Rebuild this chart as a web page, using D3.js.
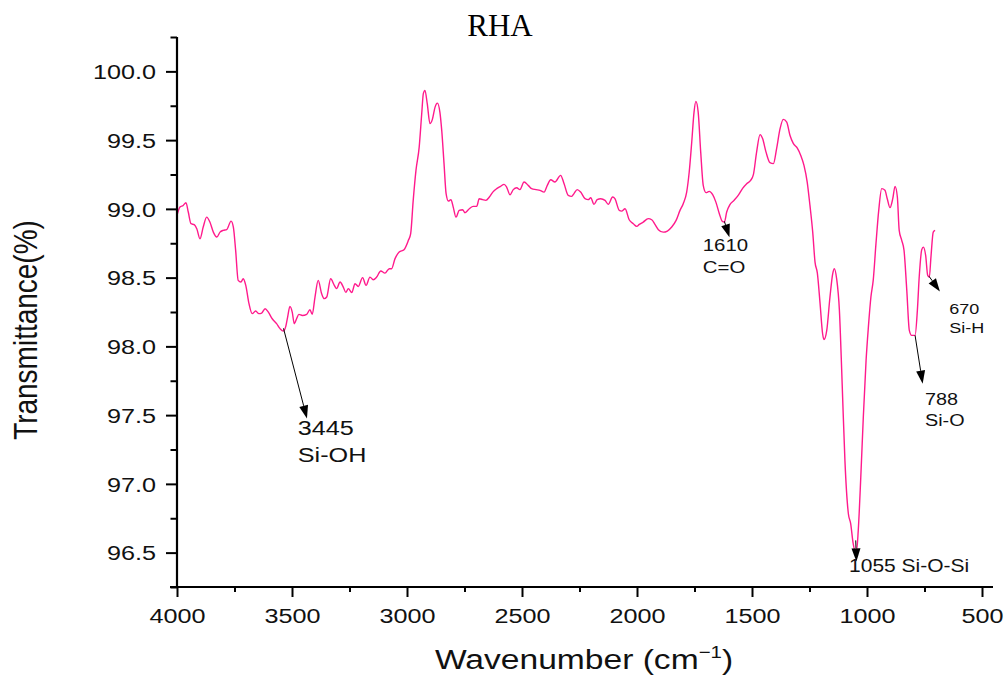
<!DOCTYPE html>
<html>
<head>
<meta charset="utf-8">
<script src="https://cdn.jsdelivr.net/npm/d3@7"></script>
<style>
  html, body { margin: 0; padding: 0; background: #fff; }
  svg { display: block; }
</style>
</head>
<body>
<svg id="chart" width="1005" height="675"></svg>
<script>
// FTIR spectrum of rice husk ash (RHA)
const wavenumber = [
  4000, 3987, 3973, 3961, 3951, 3939, 3925, 3914, 3900, 3886, 3871, 3857, 3842, 3827, 3813, 3799,
  3784, 3765, 3755, 3745, 3734, 3722, 3712, 3701, 3687, 3673, 3658, 3644, 3632, 3617, 3603, 3586,
  3567, 3552, 3538, 3527, 3519, 3509, 3499, 3490, 3480, 3470, 3455, 3436, 3422, 3412, 3400, 3386,
  3371, 3360, 3349, 3332, 3316, 3306, 3291, 3277, 3266, 3255, 3240, 3226, 3212, 3193, 3178, 3161,
  3147, 3132, 3114, 3096, 3077, 3067, 3052, 3034, 3013, 2994, 2984, 2973, 2961, 2947, 2936, 2929,
  2922, 2912, 2900, 2890, 2878, 2868, 2857, 2849, 2839, 2830, 2820, 2809, 2799, 2787, 2773, 2758,
  2748, 2729, 2712, 2697, 2686, 2671, 2657, 2642, 2627, 2610, 2593, 2578, 2567, 2552, 2538, 2523,
  2509, 2491, 2473, 2458, 2439, 2422, 2404, 2390, 2375, 2357, 2332, 2317, 2299, 2284, 2274, 2260,
  2245, 2226, 2212, 2201, 2187, 2173, 2158, 2139, 2125, 2106, 2096, 2077, 2067, 2052, 2034, 2016,
  2001, 1990, 1973, 1951, 1936, 1922, 1907, 1886, 1868, 1849, 1830, 1813, 1799, 1784, 1773, 1762,
  1752, 1744, 1734, 1723, 1712, 1700, 1686, 1671, 1657, 1642, 1629, 1620, 1610, 1596, 1578, 1560,
  1540, 1523, 1506, 1494, 1480, 1465, 1454, 1439, 1422, 1407, 1393, 1378, 1364, 1349, 1335, 1320,
  1303, 1288, 1274, 1260, 1248, 1236, 1226, 1216, 1204, 1193, 1187, 1175, 1161, 1149, 1142, 1132,
  1120, 1110, 1106, 1096, 1081, 1071, 1060, 1052, 1045, 1038, 1027, 1016, 1004, 994, 983, 973,
  961, 949, 936, 922, 912, 900, 888, 878, 868, 860, 849, 839, 827, 816, 806, 791,
  781, 773, 762, 755, 745, 736, 729, 722, 712, 704
];

const transmittance = [
  98.953, 99.013, 99.025, 99.045, 98.977, 98.892, 98.885, 98.856, 98.783, 98.868, 98.940, 98.904, 98.831, 98.795, 98.831, 98.844,
  98.849, 98.911, 98.868, 98.698, 98.480, 98.468, 98.492, 98.444, 98.311, 98.238, 98.257, 98.238, 98.242, 98.274, 98.249, 98.201,
  98.165, 98.129, 98.111, 98.145, 98.213, 98.291, 98.249, 98.165, 98.201, 98.233, 98.225, 98.233, 98.267, 98.233, 98.359, 98.480,
  98.383, 98.347, 98.359, 98.492, 98.444, 98.420, 98.468, 98.431, 98.393, 98.420, 98.391, 98.456, 98.436, 98.500, 98.444, 98.504,
  98.485, 98.504, 98.548, 98.533, 98.565, 98.565, 98.638, 98.686, 98.703, 98.771, 98.820, 99.062, 99.280, 99.449, 99.692, 99.838,
  99.862, 99.765, 99.620, 99.649, 99.740, 99.769, 99.704, 99.571, 99.329, 99.111, 99.057, 99.067, 99.013, 98.940, 98.989, 98.994,
  98.972, 99.001, 99.018, 99.018, 99.074, 99.067, 99.062, 99.086, 99.122, 99.147, 99.164, 99.178, 99.159, 99.103, 99.140, 99.154,
  99.140, 99.195, 99.171, 99.147, 99.140, 99.135, 99.122, 99.171, 99.212, 99.195, 99.244, 99.183, 99.098, 99.091, 99.111, 99.140,
  99.122, 99.074, 99.067, 99.081, 99.033, 99.067, 99.074, 99.062, 99.033, 99.086, 99.074, 98.989, 98.984, 99.001, 98.921, 98.892,
  98.873, 98.887, 98.904, 98.929, 98.921, 98.887, 98.849, 98.831, 98.839, 98.868, 98.916, 98.989, 99.038, 99.122, 99.268, 99.486,
  99.704, 99.782, 99.704, 99.413, 99.171, 99.118, 99.127, 99.103, 99.049, 98.965, 98.909, 98.904, 98.977, 99.031, 99.062, 99.098,
  99.151, 99.183, 99.207, 99.249, 99.413, 99.540, 99.511, 99.413, 99.336, 99.329, 99.438, 99.583, 99.651, 99.631, 99.535, 99.474,
  99.442, 99.389, 99.316, 99.195, 99.025, 98.831, 98.613, 98.535, 98.311, 98.092, 98.049, 98.116, 98.359, 98.529, 98.565, 98.492,
  98.262, 97.825, 97.631, 97.171, 96.783, 96.711, 96.565, 96.516, 96.516, 96.662, 97.049, 97.486, 97.898, 98.140, 98.359, 98.480,
  98.747, 98.989, 99.147, 99.135, 99.074, 99.009, 99.074, 99.164, 99.086, 98.844, 98.771, 98.698, 98.407, 98.116, 98.080, 98.080,
  98.262, 98.504, 98.703, 98.722, 98.662, 98.516, 98.504, 98.649, 98.831, 98.844
];

// Axis ticks
const xMajorTicks = [4000, 3500, 3000, 2500, 2000, 1500, 1000, 500];
const xTickLabels = ["4000", "3500", "3000", "2500", "2000", "1500", "1000", "500"];
const xMinorTicks = [3750, 3250, 2750, 2250, 1750, 1250, 750];
const yMajorTicks = [96.5, 97.0, 97.5, 98.0, 98.5, 99.0, 99.5, 100.0];
const yTickLabels = ["96.5", "97.0", "97.5", "98.0", "98.5", "99.0", "99.5", "100.0"];
const yMinorTicks = [96.25, 96.75, 97.25, 97.75, 98.25, 98.75, 99.25, 99.75, 100.25];

// Band assignments: arrow start on the curve, arrow tip, label anchor (wavenumber, %T)
const noteText = [["3445", "Si-OH"], ["1610", "C=O"], ["670", "Si-H"], ["788", "Si-O"], ["1055 Si-O-Si"]];
const noteFrom = [[3537, 98.131], [1620, 98.909], [730, 98.509], [791, 98.080], [1049, 96.589]];
const noteTo   = [[3435, 97.476], [1598, 98.793], [683, 98.400], [758, 97.729], [1046, 96.436]];
const noteAt   = [[3475, 97.353], [1714, 98.691], [642, 98.238], [748, 97.571], [1078, 96.359]];

// ---- drawing ----
const svg = d3.select("#chart");
const SANS = "'Liberation Sans', Arial, Helvetica, sans-serif";
const SERIF = "'Liberation Serif', 'Times New Roman', serif";
const WIDEN = 1.2;                 // horizontal widening of the sans lettering
const noteFontSize = [21, 17, 15, 16.5, 17.5];

const x = d3.scaleLinear().domain([4000, 500]).range([177, 982]);
const y = d3.scaleLinear().domain([96.25, 100.25]).range([587, 37]);

const points = wavenumber.map((w, i) => [w, transmittance[i]]);

// spectrum
svg.append("path")
  .datum(points)
  .attr("fill", "none")
  .attr("stroke", "#ff1a8c")
  .attr("stroke-width", 1.4)
  .attr("stroke-linejoin", "round")
  .attr("d", d3.line().x(d => x(d[0])).y(d => y(d[1])).curve(d3.curveMonotoneX));

// y axis
const yAxisG = svg.append("g").attr("transform", `translate(${x(4000)},0)`);
yAxisG.append("g")
  .call(d3.axisLeft(y).tickValues(yMinorTicks).tickSize(6.5).tickFormat(""))
  .call(g => g.select(".domain").remove());
yAxisG.append("g")
  .call(d3.axisLeft(y).tickValues(yMajorTicks).tickSize(11)
        .tickFormat((d, i) => yTickLabels[i]))
  .call(g => g.select(".domain").remove())
  .call(g => g.selectAll("text")
    .attr("x", 0).attr("dy", "0.35em")
    .attr("text-anchor", "end")
    .attr("transform", `translate(-21,0) scale(${WIDEN},1)`)
    .style("font-family", SANS).style("font-size", "21px").attr("fill", "#111"));
yAxisG.selectAll("line").attr("stroke", "#000").attr("stroke-width", 2);
yAxisG.append("line")
  .attr("x1", 0).attr("x2", 0)
  .attr("y1", y.range()[1]).attr("y2", y.range()[0])
  .attr("stroke", "#000").attr("stroke-width", 2.2);

// x axis
const xAxisG = svg.append("g").attr("transform", `translate(0,${y(96.25)})`);
xAxisG.append("g")
  .call(d3.axisBottom(x).tickValues(xMinorTicks).tickSize(5).tickFormat(""))
  .call(g => g.select(".domain").remove());
xAxisG.append("g")
  .call(d3.axisBottom(x).tickValues(xMajorTicks).tickSize(10)
        .tickFormat((d, i) => xTickLabels[i]))
  .call(g => g.select(".domain").remove())
  .call(g => g.selectAll("text")
    .attr("y", 0).attr("dy", 0)
    .attr("text-anchor", "middle")
    .attr("transform", `translate(0,36) scale(${WIDEN},1)`)
    .style("font-family", SANS).style("font-size", "21px").attr("fill", "#111"));
xAxisG.selectAll("line").attr("stroke", "#000").attr("stroke-width", 2);
xAxisG.append("line")
  .attr("x1", x.range()[0] - 7).attr("x2", x.range()[1] + 11)
  .attr("y1", 0).attr("y2", 0)
  .attr("stroke", "#000").attr("stroke-width", 2.2);

// title
svg.append("text")
  .attr("x", 500).attr("y", 36)
  .attr("text-anchor", "middle")
  .style("font-family", SERIF).style("font-size", "31px")
  .attr("fill", "#000")
  .text("RHA");

// axis titles
const xTitle = svg.append("text")
  .attr("transform", `translate(584,669) scale(${WIDEN},1)`)
  .attr("text-anchor", "middle")
  .style("font-family", SANS).style("font-size", "28px")
  .attr("fill", "#111");
xTitle.append("tspan").text("Wavenumber (cm");
xTitle.append("tspan").attr("dy", -11).style("font-size", "17px").text("\u22121");
xTitle.append("tspan").attr("dy", 11).text(")");

svg.append("text")
  .attr("transform", `translate(37,330) scale(${WIDEN},1) rotate(-90)`)
  .attr("text-anchor", "middle")
  .style("font-family", SANS).style("font-size", "28px")
  .attr("fill", "#111")
  .text("Transmittance(%)");

// band annotations
const HEAD_LEN = 13, HEAD_HALF = 4.5;
noteText.forEach((lines, i) => {
  const x0 = x(noteFrom[i][0]), y0 = y(noteFrom[i][1]);
  const x1 = x(noteTo[i][0]), y1 = y(noteTo[i][1]);
  const dx = x1 - x0, dy = y1 - y0, len = Math.hypot(dx, dy);
  const ux = dx / len, uy = dy / len;
  const bx = x1 - ux * HEAD_LEN, by = y1 - uy * HEAD_LEN;
  svg.append("line")
    .attr("x1", x0).attr("y1", y0).attr("x2", bx).attr("y2", by)
    .attr("stroke", "#000").attr("stroke-width", 1);
  svg.append("path")
    .attr("d", `M${x1},${y1}L${bx - uy * HEAD_HALF},${by + ux * HEAD_HALF}L${bx + uy * HEAD_HALF},${by - ux * HEAD_HALF}Z`)
    .attr("fill", "#000");

  const fs = noteFontSize[i];
  const t = svg.append("text")
    .attr("transform", `translate(${x(noteAt[i][0])},${y(noteAt[i][1])}) scale(${WIDEN},1)`)
    .style("font-family", SANS).style("font-size", fs + "px")
    .attr("fill", "#111");
  lines.forEach((s, k) => {
    t.append("tspan").attr("x", 0).attr("dy", k === 0 ? 0 : fs * 1.26).text(s);
  });
});
</script>
</body>
</html>
